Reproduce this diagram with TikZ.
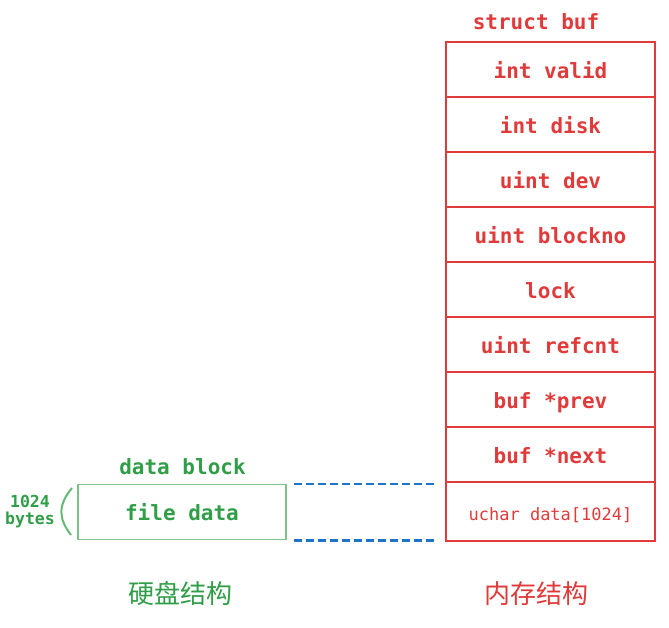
\documentclass[tikz,border=0pt]{standalone}
\usepackage{fontspec}
\setmonofont{DejaVu Sans Mono}
\newfontfamily\cjk{Noto Sans CJK SC}
\usepackage{tikz}
\usetikzlibrary{positioning}
\usepackage{xcolor}
\definecolor{memred}{HTML}{E03A3A}
\definecolor{diskgreen}{HTML}{2F9E47}
\definecolor{boxgreen}{HTML}{7DC389}
\definecolor{linkblue}{HTML}{1E74C8}
\tikzset{
  field/.style={draw=memred,line width=2pt,minimum width=209pt,minimum height=55pt,inner sep=0pt,
    text=memred,text height=17pt,text depth=0pt,font=\ttfamily\bfseries\fontsize{21}{24}\selectfont},
  title/.style={anchor=base,inner sep=0pt,font=\ttfamily\bfseries\fontsize{21}{24}\selectfont},
  note/.style={anchor=base,inner sep=0pt,text=diskgreen,font=\ttfamily\bfseries\fontsize{16.5}{18}\selectfont},
  caption/.style={inner sep=0pt,font=\cjk\fontsize{26}{28}\selectfont},
  link/.style={linkblue,line width=2.5pt,dash pattern=on 8pt off 4pt}
}

\begin{document}
\begin{tikzpicture}[x=1pt,y=-1pt]
\useasboundingbox (0,0) rectangle (669,627);

\node[title,text=memred] (bufname) at (536,29) {struct buf};
\node[field] (valid) at (550.5,69.5) {int valid};
\node[field] (disk) at (550.5,124.5) {int disk};
\node[field] (dev) at (550.5,179.5) {uint dev};
\node[field] (blockno) at (550.5,234.5) {uint blockno};
\node[field] (lock) at (550.5,289.5) {lock};
\node[field] (refcnt) at (550.5,344.5) {uint refcnt};
\node[field] (prev) at (550.5,399.5) {buf *prev};
\node[field] (next) at (550.5,454.5) {buf *next};
\node[field,minimum height=59pt,font=\ttfamily\fontsize{17}{20}\selectfont] (data) at (550.5,511.5) {uchar data[1024]};

\node[title,text=diskgreen] (blockname) at (182.5,474) {data block};
\node[field,draw=boxgreen,line width=1.5pt,minimum width=208pt,text=diskgreen] (fdata) at (182,512) {file data};

\node[note] (size) at (30,507) {1024};
\node[note] (unit) at (30,524) {bytes};
\draw[boxgreen!70!diskgreen,line width=2pt] (72,488) .. controls (58,505) and (58,518) .. (71,535);

\draw[link] ([xshift=7pt]fdata.north east) -- ([xshift=-9pt]fdata.north east -| data.west);
\draw[link] ([xshift=7pt]fdata.south east) -- ([xshift=-9pt]fdata.south east -| data.west);

\node[caption,text=diskgreen] (disklabel) at (180.5,594) {硬盘结构};
\node[caption,text=memred] (memlabel) at (536.5,594) {内存结构};
\end{tikzpicture}
\end{document}
